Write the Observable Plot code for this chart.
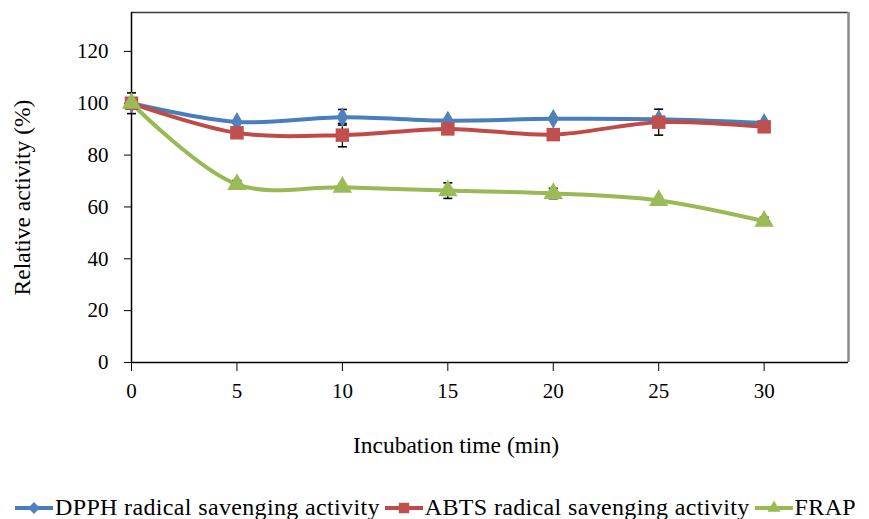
<!DOCTYPE html>
<html>
<head>
<meta charset="utf-8">
<script src="https://cdn.jsdelivr.net/npm/d3@7"></script>
<script src="https://cdn.jsdelivr.net/npm/@observablehq/plot@0.6"></script>
<style>
  html, body { margin: 0; padding: 0; background: #fff; }
  #wrap { position: relative; width: 869px; height: 519px; overflow: hidden; font-family: "Liberation Serif", "Times New Roman", serif; }
  #legend { position: absolute; left: 14px; top: 494px; display: flex; align-items: center; font-size: 24px; letter-spacing: 0.35px; color: #000; white-space: nowrap; }
  .item { display: flex; align-items: center; margin-right: 4px; }
  .item svg { margin-right: 1px; }
</style>
</head>
<body>
<div id="wrap">
  <div id="chart"></div>
  <div id="legend"></div>
</div>
<script>
// Incubation time (min)
const times = [0, 5, 10, 15, 20, 25, 30];
const seriesNames = ["DPPH radical savenging activity", "ABTS radical savenging activity", "FRAP"];
const dpph = [100, 92.8, 94.6, 93.3, 94, 93.8, 92.4];
const abts = [100, 88.6, 87.7, 90.1, 87.9, 92.7, 90.9];
const frap = [100, 68.7, 67.6, 66.3, 65.2, 62.5, 54.5];
const dpphErr = [4, null, 3, null, null, null, null];
const abtsErr = [null, null, 4.5, null, null, 5, null];
const frapErr = [null, 1.5, null, 3, 2, null, 1.5];
const yTicks = [0, 20, 40, 60, 80, 100, 120];
const xTicks = [0, 5, 10, 15, 20, 25, 30];
const lineColors = ["#4A7EBB", "#BE4B48", "#98B954"];
const markColors = ["#4F81BD", "#C0504D", "#9BBB59"];
const symbols = ["diamond", "square", "triangle"];
const radii = [6, 7.6, 7.2];

const values = [dpph, abts, frap];
const errs = [dpphErr, abtsErr, frapErr];
const data = [];
const errData = [];
seriesNames.forEach((s, i) => {
  times.forEach((t, j) => {
    data.push({series: s, t, v: values[i][j]});
    if (errs[i][j] != null) errData.push({series: s, t, lo: values[i][j] - errs[i][j], hi: values[i][j] + errs[i][j]});
  });
});

const capSymbol = {
  draw(ctx, size) {
    const h = Math.sqrt(size / Math.PI);
    ctx.moveTo(-h, 0);
    ctx.lineTo(h, 0);
  }
};

const font = '"Liberation Serif", "Times New Roman", serif';

const marks = [
  Plot.ruleY([135], {stroke: "#3a3a3a", strokeWidth: 1.5}),
  Plot.ruleX([34], {stroke: "#8a8a8a", strokeWidth: 2.5}),
  Plot.axisY({ticks: yTicks, tickSize: 7, tickPadding: 16, fontSize: 21, label: "Relative activity (%)", labelAnchor: "center", labelArrow: "none", labelOffset: 118}),
  Plot.axisX({ticks: xTicks, tickSize: 9, tickPadding: 12, fontSize: 21, label: null}),
  Plot.text(["Incubation time (min)"], {frameAnchor: "bottom", lineAnchor: "middle", dx: -34, dy: 83, fontSize: 23.5, fill: "#000"}),
  Plot.ruleX([0], {stroke: "#000", strokeWidth: 1.5}),
  Plot.ruleY([0], {stroke: "#000", strokeWidth: 1.5}),
];
seriesNames.forEach((s, i) => {
  const d = data.filter(r => r.series === s);
  marks.push(Plot.line(d, {x: "t", y: "v", stroke: lineColors[i], strokeWidth: 4, curve: "catmull-rom"}));
});
marks.push(Plot.ruleX(errData, {x: "t", y1: "lo", y2: "hi", stroke: "#000", strokeWidth: 1.3}));
marks.push(Plot.dot(errData, {x: "t", y: "lo", symbol: capSymbol, r: 4.5, stroke: "#000", strokeWidth: 1.6}));
marks.push(Plot.dot(errData, {x: "t", y: "hi", symbol: capSymbol, r: 4.5, stroke: "#000", strokeWidth: 1.6}));
seriesNames.forEach((s, i) => {
  const d = data.filter(r => r.series === s);
  marks.push(Plot.dot(d, {x: "t", y: "v", symbol: symbols[i], r: radii[i], fill: markColors[i], stroke: "none"}));
});

const chart = Plot.plot({
  width: 869,
  height: 490,
  marginTop: 12,
  marginLeft: 131,
  marginRight: 21,
  marginBottom: 128,
  style: {fontFamily: font, color: "#000", background: "#fff", overflow: "visible"},
  x: {domain: [0, 34]},
  y: {domain: [0, 135]},
  marks
});
const yLabel = chart.querySelector('[aria-label="y-axis label"]');
if (yLabel) {
  yLabel.setAttribute("font-size", "23.5");
  yLabel.querySelectorAll("text").forEach(t => t.setAttribute("font-size", "23.5"));
  const prev = yLabel.getAttribute("transform") || "";
  yLabel.setAttribute("transform", "translate(0,10) " + prev);
}
document.getElementById("chart").appendChild(chart);

// legend
const legend = document.getElementById("legend");
const symPaths = {
  diamond: d3.symbol(d3.symbolDiamond2, 90)(),
  square: d3.symbol(d3.symbolSquare2, 140)(),
  triangle: d3.symbol(d3.symbolTriangle2, 120)()
};
seriesNames.forEach((s, i) => {
  const item = document.createElement("div");
  item.className = "item";
  item.innerHTML = `<svg width="40" height="20" viewBox="0 0 40 20">
    <line x1="1" x2="39" y1="10" y2="10" stroke="${lineColors[i]}" stroke-width="4"/>
    <path d="${symPaths[symbols[i]]}" transform="translate(20,10)" fill="${markColors[i]}"/>
  </svg><span>${s}</span>`;
  legend.appendChild(item);
});
</script>
</body>
</html>
